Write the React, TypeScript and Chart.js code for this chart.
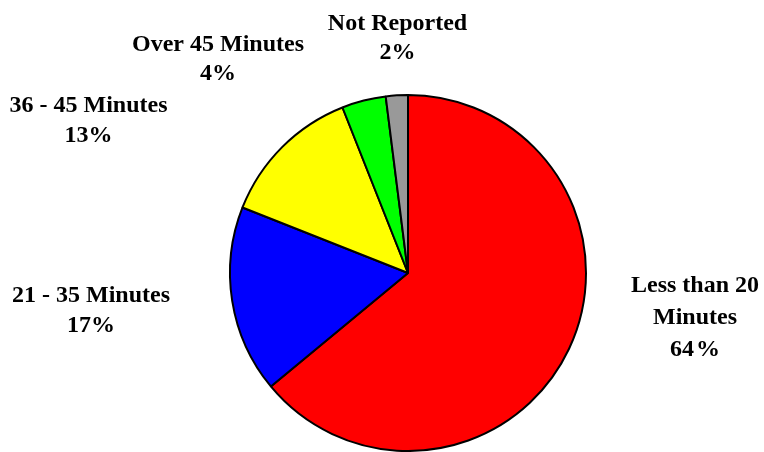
import React, { useEffect, useRef } from "react";
import { Chart, registerables } from "chart.js";

Chart.register(...registerables);

const categories = [
  "Less than 20 Minutes",
  "21 - 35 Minutes",
  "36 - 45 Minutes",
  "Over 45 Minutes",
  "Not Reported",
];
const values = [64, 17, 13, 4, 2];
const labelLines = [
  ["Less than 20", "Minutes", "64\u200A%"],
  ["21 - 35 Minutes", "17%"],
  ["36 - 45 Minutes", "13%"],
  ["Over 45 Minutes", "4%"],
  ["Not Reported", "2%"],
];
const sliceColors = ["#FF0000", "#0000FF", "#FFFF00", "#00FF00", "#999999"];

// label anchor: centre x and baselines (text placement only)
const labelX = [695, 91, 88.5, 218, 397.5];
const labelBaselines = [
  [292, 324, 356],
  [302, 332],
  [112, 142],
  [51, 80],
  [30, 59],
];

const labelPlugin = {
  id: "outerLabels",
  afterDraw(chart: any) {
    const ctx = chart.ctx;
    ctx.save();
    ctx.fillStyle = "#000";
    ctx.font = "bold 24px 'Liberation Serif', 'Times New Roman', serif";
    ctx.textAlign = "center";
    ctx.textBaseline = "alphabetic";
    labelLines.forEach((lines, i) => {
      lines.forEach((t, j) => {
        ctx.fillText(t, labelX[i], labelBaselines[i][j]);
      });
    });
    ctx.restore();
  },
};

export default function App() {
  const ref = useRef<HTMLCanvasElement>(null);
  useEffect(() => {
    document.body.style.margin = "0";
    const chart = new Chart(ref.current!, {
      type: "pie",
      data: {
        labels: categories,
        datasets: [
          {
            data: values,
            backgroundColor: sliceColors,
            borderColor: "#000",
            borderWidth: 2,
          },
        ],
      },
      options: {
        responsive: false,
        animation: false,
        rotation: 0,
        layout: { padding: { top: 94, bottom: 0, left: 208, right: 156 } },
        plugins: {
          legend: { display: false },
          tooltip: { enabled: false },
        },
      },
      plugins: [labelPlugin],
    });
    return () => chart.destroy();
  }, []);
  return (
    <div style={{ width: 764, height: 452, background: "#fff" }}>
      <canvas ref={ref} width={764} height={452} />
    </div>
  );
}
